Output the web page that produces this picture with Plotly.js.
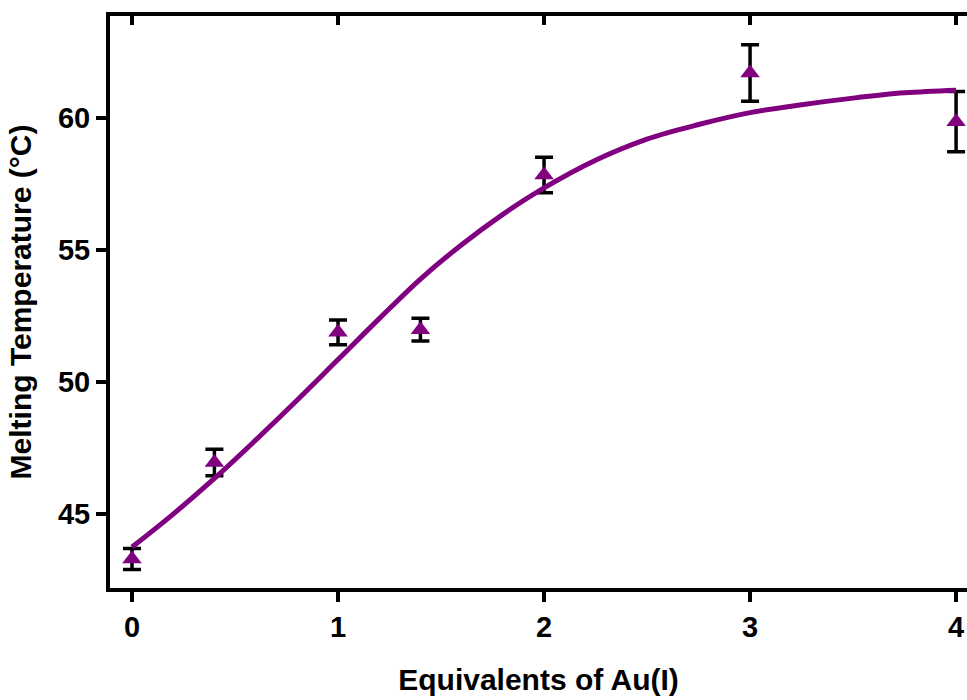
<!DOCTYPE html>
<html>
<head>
<meta charset="utf-8">
<script src="https://cdn.plot.ly/plotly-3.0.1.min.js"></script>
<style>html,body{margin:0;padding:0;background:#fff}#chart{width:967px;height:700px}</style>
</head>
<body>
<div id="chart"></div>
<script>
// Measured data (equivalents of Au(I) vs melting temperature)
const equivalents = [0, 0.4, 1, 1.4, 2, 3, 4];
const meltTemp = [43.3, 46.95, 51.88, 51.98, 57.84, 61.7, 59.86];
const meltErr = [0.4, 0.5, 0.47, 0.43, 0.67, 1.07, 1.14];

// Fitted curve
const fitX = [0, 0.2, 0.4, 0.6, 0.8, 1.0, 1.2, 1.4, 1.6, 1.8, 2.0, 2.25, 2.5, 2.75, 3.0, 3.25, 3.5, 3.75, 4.0];
const fitY = [43.75, 45.0, 46.35, 47.8, 49.3, 50.85, 52.4, 53.9, 55.2, 56.35, 57.35, 58.4, 59.2, 59.75, 60.2, 60.5, 60.75, 60.95, 61.05];

const xTicks = [0, 1, 2, 3, 4];
const yTicks = [45, 50, 55, 60];

const purple = '#800080';
const fontFam = '"Liberation Sans", Arial, sans-serif';

const traces = [
  {
    x: equivalents, y: meltTemp, type: 'scatter', mode: 'markers',
    marker: {symbol: 'triangle-up', size: 17, color: purple},
    error_y: {type: 'data', array: meltErr, visible: true, color: '#000', thickness: 3.5, width: 9},
    showlegend: false, hoverinfo: 'x+y'
  },
  {
    x: fitX, y: fitY, type: 'scatter', mode: 'lines', xaxis: 'x2', yaxis: 'y',
    line: {color: purple, width: 5, shape: 'spline', smoothing: 1},
    showlegend: false
  }
];

const xr = [-0.1068, 4.053];
const layout = {
  width: 967, height: 700,
  margin: {l: 110, r: 0, t: 16, b: 112},
  paper_bgcolor: '#fff', plot_bgcolor: '#fff',
  font: {family: fontFam, color: '#000', size: 29, weight: 700},
  xaxis: {
    range: xr, tickvals: xTicks, ticktext: xTicks.map(String),
    showgrid: false, zeroline: false, showline: true, linecolor: '#000', linewidth: 4,
    ticks: 'outside', ticklen: 10, tickwidth: 4, tickcolor: '#000',
    tickfont: {family: fontFam, size: 29, weight: 700, color: '#000'},
    title: {text: 'Equivalents of Au(I)', font: {family: fontFam, size: 30, weight: 700, color: '#000'}, standoff: 28},
    automargin: false
  },
  xaxis2: {
    range: xr, overlaying: 'x', side: 'top', anchor: 'y', tickvals: xTicks,
    showticklabels: false, showgrid: false, zeroline: false, showline: true, linecolor: '#000', linewidth: 4,
    ticks: 'inside', ticklen: 9, tickwidth: 4, tickcolor: '#000', automargin: false
  },
  yaxis: {
    range: [42.20, 63.86], tickvals: yTicks, ticktext: yTicks.map(String),
    showgrid: false, zeroline: false, showline: true, linecolor: '#000', linewidth: 4, mirror: true,
    ticks: 'outside', ticklen: 10, tickwidth: 4, tickcolor: '#000',
    tickfont: {family: fontFam, size: 29, weight: 700, color: '#000'},
    title: {text: 'Melting Temperature (°C)', font: {family: fontFam, size: 30, weight: 700, color: '#000'}, standoff: 18},
    automargin: false
  }
};

Plotly.newPlot('chart', traces, layout, {displayModeBar: false, staticPlot: true});
</script>
</body>
</html>
